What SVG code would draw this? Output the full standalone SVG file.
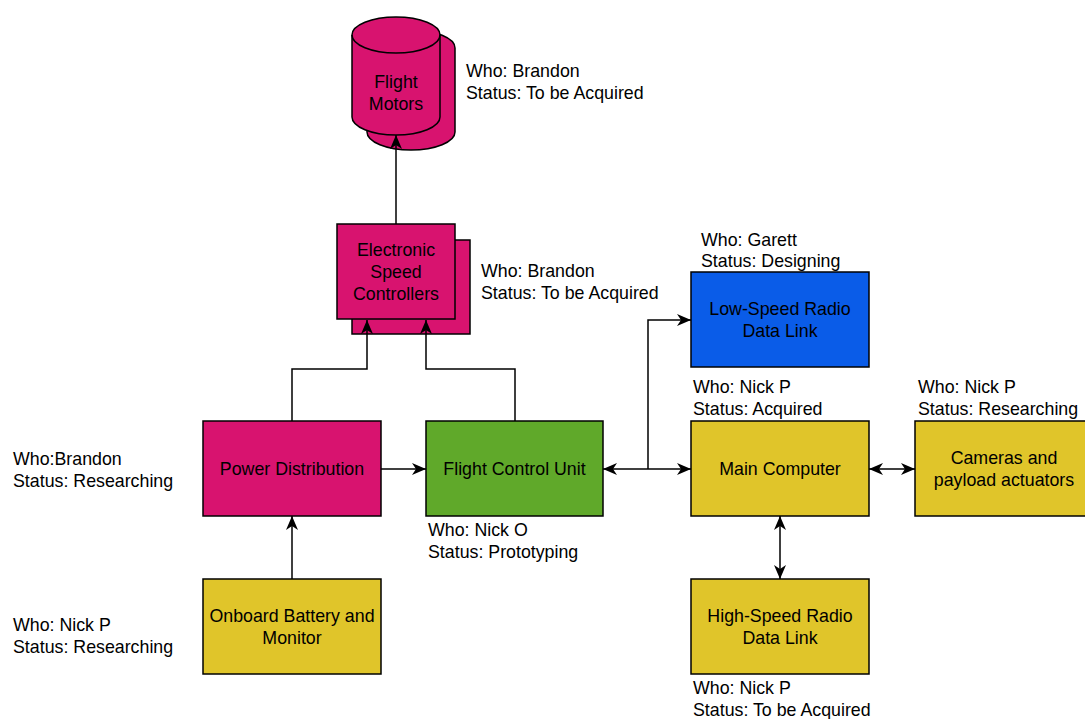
<svg xmlns="http://www.w3.org/2000/svg" width="1085" height="719" viewBox="0 0 1085 719">
<style>
text{font-family:"Liberation Sans",Arial,sans-serif;font-size:17.8px;fill:#000}
.c{text-anchor:middle}
.box{stroke:#000;stroke-width:1.5}
.mag{fill:#d8136f}.grn{fill:#60a92a}.blu{fill:#0a5ce8}.yel{fill:#e0c52a}
.ln{fill:none;stroke:#000;stroke-width:1.5}
</style>
<defs>
<marker id="ah" markerUnits="userSpaceOnUse" markerWidth="16" markerHeight="16" viewBox="0 0 16 16" refX="14" refY="8" orient="auto-start-reverse">
<path d="M0,2 L14,8 L0,14 L4,8 Z" fill="#000"/>
</marker>
</defs>
<rect width="1085" height="719" fill="#fff"/>
<g id="flight-motors">
<path class="box mag" d="M367,48 L367,132 A44,18 0 0 0 455,132 L455,48 A44,18 0 0 0 367,48 Z"/>
<path class="box mag" d="M352,35 L352,117 A44,18 0 0 0 440,117 L440,35 A44,18 0 0 0 352,35 Z"/>
<path class="ln" d="M352,35 A44,18 0 0 0 440,35"/>
<text class="c" x="396" y="88">Flight</text>
<text class="c" x="396" y="110">Motors</text>
</g>
<g id="esc">
<rect class="box mag" x="352" y="240" width="118" height="94"/>
<rect class="box mag" x="337" y="224" width="118" height="95"/>
<text class="c" x="396" y="256">Electronic</text>
<text class="c" x="396" y="278">Speed</text>
<text class="c" x="396" y="300">Controllers</text>
</g>
<g id="power-distribution">
<rect class="box mag" x="203" y="421" width="178" height="95"/>
<text class="c" x="292" y="475">Power Distribution</text>
</g>
<g id="flight-control-unit">
<rect class="box grn" x="426" y="421" width="177" height="95"/>
<text class="c" x="514.5" y="475">Flight Control Unit</text>
</g>
<g id="battery">
<rect class="box yel" x="203" y="579" width="178" height="95"/>
<text class="c" x="292" y="622">Onboard Battery and</text>
<text class="c" x="292" y="644">Monitor</text>
</g>
<g id="low-speed-radio">
<rect class="box blu" x="691" y="272" width="178" height="95"/>
<text class="c" x="780" y="315">Low-Speed Radio</text>
<text class="c" x="780" y="337">Data Link</text>
</g>
<g id="main-computer">
<rect class="box yel" x="691" y="421" width="178" height="95"/>
<text class="c" x="780" y="475">Main Computer</text>
</g>
<g id="cameras">
<rect class="box yel" x="915" y="421" width="178" height="95"/>
<text class="c" x="1004" y="464">Cameras and</text>
<text class="c" x="1004" y="486">payload actuators</text>
</g>
<g id="high-speed-radio">
<rect class="box yel" x="691" y="579" width="178" height="95"/>
<text class="c" x="780" y="622">High-Speed Radio</text>
<text class="c" x="780" y="644">Data Link</text>
</g>
<g id="labels">
<text x="466" y="77">Who: Brandon</text>
<text x="466" y="99">Status: To be Acquired</text>
<text x="481" y="277">Who: Brandon</text>
<text x="481" y="299">Status: To be Acquired</text>
<text x="701" y="246">Who: Garett</text>
<text x="701" y="267">Status: Designing</text>
<text x="693" y="393">Who: Nick P</text>
<text x="693" y="415">Status: Acquired</text>
<text x="918" y="393">Who: Nick P</text>
<text x="918" y="415">Status: Researching</text>
<text x="13" y="465">Who:Brandon</text>
<text x="13" y="487">Status: Researching</text>
<text x="428" y="536">Who: Nick O</text>
<text x="428" y="558">Status: Prototyping</text>
<text x="13" y="631">Who: Nick P</text>
<text x="13" y="653">Status: Researching</text>
<text x="693" y="694">Who: Nick P</text>
<text x="693" y="716">Status: To be Acquired</text>
</g>
<g id="connectors">
<path class="ln" d="M396,224 L396,135" marker-end="url(#ah)"/>
<path class="ln" d="M292,421 L292,369 L367,369 L367,320" marker-end="url(#ah)"/>
<path class="ln" d="M515,421 L515,369 L426,369 L426,320" marker-end="url(#ah)"/>
<path class="ln" d="M292,579 L292,516" marker-end="url(#ah)"/>
<path class="ln" d="M381,469 L426,469" marker-end="url(#ah)"/>
<path class="ln" d="M603,469 L691,469" marker-start="url(#ah)" marker-end="url(#ah)"/>
<path class="ln" d="M648,469 L648,320 L691,320" marker-end="url(#ah)"/>
<path class="ln" d="M869,469 L915,469" marker-start="url(#ah)" marker-end="url(#ah)"/>
<path class="ln" d="M780,516 L780,579" marker-start="url(#ah)" marker-end="url(#ah)"/>
</g>
</svg>
